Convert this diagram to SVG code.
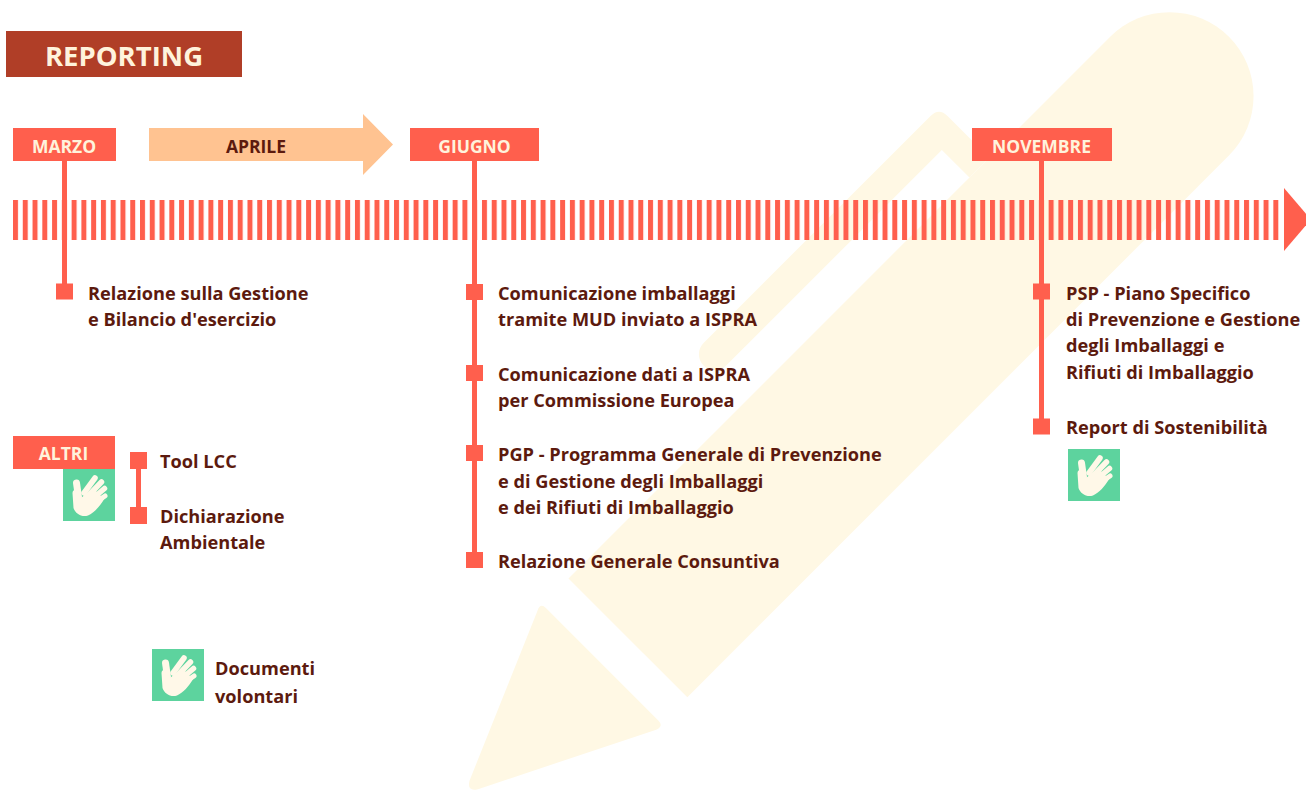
<svg xmlns="http://www.w3.org/2000/svg" width="1306" height="793" viewBox="0 0 1306 793">
  <style>
    .item { font-family: "Open Sans", "Liberation Sans", sans-serif; font-weight: 700; font-size: 18.2px; fill: #5C1A0E; }
    .month { font-family: "Open Sans", "Liberation Sans", sans-serif; font-weight: 700; font-size: 17.5px; fill: #FFF3DC; text-anchor: middle; }
    .coral { fill: #FF5F4D; }
    .badge { fill: #5DD39E; }
    .hand { fill: #FFF8E8; }
    .finger { stroke: #FFF8E8; stroke-linecap: round; fill: none; }
  </style>
  <defs>
    <pattern id="ticks" x="13" y="200" width="9.7701" height="40" patternUnits="userSpaceOnUse">
      <rect x="0" y="0" width="5" height="40" fill="#FF5F4D"/>
    </pattern>
    <!-- raised hand on a green badge, 52x52 -->
    <symbol id="handBadge" viewBox="0 0 52 52" width="52" height="52">
      <rect width="52" height="52" class="badge"/>
      <path class="hand" d="M9.5 24 C9.5 19.5 16 19 17 24 L18 29 L30 19 L38 27 L41.5 29.5 C37 37 31 44 25 46.5 C19 48.5 12.5 45 10.5 39 Z"/>
      <line class="finger" x1="13.5" y1="14" x2="15.5" y2="28" stroke-width="7"/>
      <line class="finger" x1="21" y1="24" x2="32" y2="9" stroke-width="5.5"/>
      <line class="finger" x1="25" y1="27" x2="38.5" y2="13" stroke-width="5.5"/>
      <line class="finger" x1="28" y1="31" x2="41.5" y2="19.5" stroke-width="5.5"/>
      <line class="finger" x1="30" y1="35" x2="42" y2="27" stroke-width="5"/>
    </symbol>
  </defs>

  <rect width="1306" height="793" fill="#FFFFFF"/>

  <!-- background pencil, drawn in axis-aligned coordinates and turned 45 degrees -->
  <g id="pencil" transform="rotate(-45)" fill="#FFF8E4">
    <path d="M -7 811 H 759 A 84 84 0 0 1 759 979 H -7 Z"/>
    <path d="M -44 816 L -44 975 Q -44 983 -52 980 L -220 896 Q -230 890 -220 884 L -52 812 Q -44 808 -44 816 Z"/>
    <path d="M 255 740 H 576 Q 588 740 588 752 V 811 H 560 V 772 H 255 A 16 16 0 0 1 255 740 Z"/>
  </g>

  <!-- title -->
  <g id="title">
    <rect x="6" y="31" width="236" height="46" fill="#B03E27"/>
    <text x="124" y="66" text-anchor="middle" font-family="'Open Sans', 'Liberation Sans', sans-serif" font-weight="700" font-size="27.5" fill="#FFF3DC">REPORTING</text>
  </g>

  <!-- time axis -->
  <g id="connectors">
    <rect x="13" y="200" width="1266" height="40" fill="url(#ticks)"/>
    <polygon class="coral" points="1284,188 1311,219.5 1284,251"/>
    <rect class="coral" x="62" y="160" width="5" height="132"/>
    <rect class="coral" x="472" y="160" width="5" height="402"/>
    <rect class="coral" x="1039" y="160" width="5" height="268"/>
    <rect class="coral" x="136" y="460" width="5" height="56"/>
  </g>

  <g id="marzo">
    <rect class="coral" x="13" y="128" width="103" height="33"/>
    <text class="month" x="64" y="152.5">MARZO</text>
  </g>

  <g id="aprile">
    <polygon fill="#FFC391" points="149,128 363,128 363,114 393,144.5 363,175 363,161 149,161"/>
    <text class="month" x="256" y="152.5" style="fill:#5C1A0E">APRILE</text>
  </g>

  <g id="giugno">
    <rect class="coral" x="410" y="128" width="129" height="33"/>
    <text class="month" x="474.5" y="152.5">GIUGNO</text>
  </g>

  <g id="novembre">
    <rect class="coral" x="972" y="128" width="140" height="33"/>
    <text class="month" x="1041.5" y="152.5">NOVEMBRE</text>
  </g>

  <g id="item-relazione-gestione">
    <rect class="coral" x="56" y="283.5" width="17" height="16"/>
    <text class="item" x="88" y="299.5">Relazione sulla Gestione</text>
    <text class="item" x="88" y="326">e Bilancio d'esercizio</text>
  </g>

  <g id="item-mud">
    <rect class="coral" x="466" y="284" width="17" height="16"/>
    <text class="item" x="498" y="299.5">Comunicazione imballaggi</text>
    <text class="item" x="498" y="326">tramite MUD inviato a ISPRA</text>
  </g>

  <g id="item-dati-ispra">
    <rect class="coral" x="466" y="365" width="17" height="16"/>
    <text class="item" x="498" y="380.5">Comunicazione dati a ISPRA</text>
    <text class="item" x="498" y="407">per Commissione Europea</text>
  </g>

  <g id="item-pgp">
    <rect class="coral" x="466" y="445" width="17" height="16"/>
    <text class="item" x="498" y="461">PGP - Programma Generale di Prevenzione</text>
    <text class="item" x="498" y="487.5">e di Gestione degli Imballaggi</text>
    <text class="item" x="498" y="514">e dei Rifiuti di Imballaggio</text>
  </g>

  <g id="item-consuntiva">
    <rect class="coral" x="466" y="552" width="17" height="16"/>
    <text class="item" x="498" y="568">Relazione Generale Consuntiva</text>
  </g>

  <g id="item-psp">
    <rect class="coral" x="1033" y="283.5" width="17" height="16"/>
    <text class="item" x="1066" y="299.5">PSP - Piano Specifico</text>
    <text class="item" x="1066" y="325.5">di Prevenzione e Gestione</text>
    <text class="item" x="1066" y="352">degli Imballaggi e</text>
    <text class="item" x="1066" y="378.5">Rifiuti di Imballaggio</text>
  </g>

  <g id="item-sostenibilita">
    <rect class="coral" x="1033" y="418.5" width="17" height="16"/>
    <text class="item" x="1066" y="433.5">Report di Sostenibilità</text>
    <use href="#handBadge" x="1068" y="449"/>
  </g>

  <g id="altri">
    <rect class="coral" x="13" y="436" width="102" height="33"/>
    <text class="month" x="63.5" y="459.5">ALTRI</text>
    <use href="#handBadge" x="63" y="469"/>
  </g>

  <g id="item-tool-lcc">
    <rect class="coral" x="130" y="452" width="17" height="17"/>
    <text class="item" x="160" y="467.5">Tool LCC</text>
  </g>

  <g id="item-dichiarazione">
    <rect class="coral" x="130" y="507" width="17" height="17"/>
    <text class="item" x="160" y="522.5">Dichiarazione</text>
    <text class="item" x="160" y="549">Ambientale</text>
  </g>

  <g id="legend-volontari">
    <use href="#handBadge" x="152" y="649"/>
    <text class="item" x="215" y="675">Documenti</text>
    <text class="item" x="215" y="703">volontari</text>
  </g>
</svg>
